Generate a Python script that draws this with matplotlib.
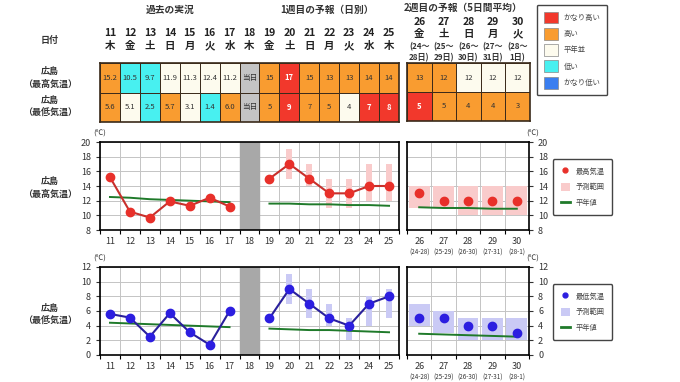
import matplotlib
matplotlib.use("Agg")
import matplotlib.pyplot as plt
import numpy as np
from matplotlib.patches import Patch
from matplotlib.lines import Line2D

plt.rcParams['font.family'] = ['Noto Sans CJK JP', 'DejaVu Sans']

W, H = 680, 382

# ---- data ----
days_obs = [11, 12, 13, 14, 15, 16, 17]
day_today = 18
days_fc = [19, 20, 21, 22, 23, 24, 25]
days_w2 = [26, 27, 28, 29, 30]
weekdays = ['木', '金', '土', '日', '月', '火', '水', '木', '金', '土', '日', '月', '火', '水', '木']
w2_weekdays = ['金', '土', '日', '月', '火']
w2_periods = ['(24〜\n28日)', '(25〜\n29日)', '(26〜\n30日)', '(27〜\n31日)', '(28〜\n1日)']
w2_ticks = ['(24-28)', '(25-29)', '(26-30)', '(27-31)', '(28-1)']

# max temperature
max_obs = [15.2, 10.5, 9.7, 11.9, 11.3, 12.4, 11.2]
max_obs_cls = ['H', 'L', 'L', 'N', 'N', 'N', 'N']
max_fc = [15, 17, 15, 13, 13, 14, 14]
max_fc_cls = ['H', 'VH', 'H', 'H', 'H', 'H', 'H']
max_fc_lo = [np.nan, 15, 14, 11, 11, 12, 12]
max_fc_hi = [np.nan, 19, 17, 15, 15, 17, 17]
max_w2 = [13, 12, 12, 12, 12]
max_w2_cls = ['H', 'H', 'N', 'N', 'N']
max_w2_lo = [11, 11, 10, 10, 10]
max_w2_hi = [14, 14, 14, 14, 14]
max_norm_obs = [12.5, 12.4, 12.2, 12.1, 12.0, 11.9, 11.8]
max_norm_fc = [11.6, 11.6, 11.5, 11.5, 11.4, 11.4, 11.3]
max_norm_w2 = [11.1, 11.0, 11.0, 10.9, 10.9]

# min temperature
min_obs = [5.6, 5.1, 2.5, 5.7, 3.1, 1.4, 6.0]
min_obs_cls = ['H', 'N', 'L', 'H', 'N', 'L', 'H']
min_fc = [5, 9, 7, 5, 4, 7, 8]
min_fc_cls = ['H', 'VH', 'H', 'H', 'N', 'VH', 'VH']
min_fc_lo = [np.nan, 7, 5, 4, 2, 4, 5]
min_fc_hi = [np.nan, 11, 9, 7, 5, 8, 9]
min_w2 = [5, 5, 4, 4, 3]
min_w2_cls = ['VH', 'H', 'H', 'H', 'H']
min_w2_lo = [4, 3, 2, 2, 2]
min_w2_hi = [7, 6, 5, 5, 5]
min_norm_obs = [4.4, 4.3, 4.2, 4.1, 4.0, 3.9, 3.8]
min_norm_fc = [3.6, 3.5, 3.4, 3.4, 3.3, 3.2, 3.1]
min_norm_w2 = [2.9, 2.8, 2.7, 2.6, 2.5]

legend_labels = ['かなり高い', '高い', '平年並', '低い', 'かなり低い']

# ---- styles ----
cls_color = {'VH': '#f2382c', 'H': '#f99c30', 'N': '#fdfbee', 'L': '#48f0f0',
             'VL': '#3a7ef0', 'T': '#c4c4c4'}
red, red_line, pink = '#e8302a', '#c8302c', '#f9cbcb'
blue, blue_line, lblue = '#2c1ee0', '#2a209c', '#cacaf5'
green = '#1f7a2a'
gridc = '#c4c4c4'

fig = plt.figure(figsize=(W / 100, H / 100), dpi=100)


def ax_px(x0, y0, x1, y1):
    return fig.add_axes([x0 / W, 1 - y1 / H, (x1 - x0) / W, (y1 - y0) / H])


def ftext(x, y, s, **kw):
    fig.text(x / W, 1 - y / H, s, ha='center', va='center', **kw)


# ---- header texts ----
ftext(170, 10, '過去の実況', fontsize=7, fontweight='bold', color='#333')
ftext(327, 10, '1週目の予報（日別）', fontsize=7, fontweight='bold', color='#333')
ftext(463, 8, '2週目の予報（5日間平均）', fontsize=7, fontweight='bold', color='#333')
ftext(50, 40, '日付', fontsize=6.5, fontweight='bold', color='#333')
ftext(50, 78, '広島\n（最高気温）', fontsize=6.5, fontweight='bold', color='#333', linespacing=1.5)
ftext(50, 107, '広島\n（最低気温）', fontsize=6.5, fontweight='bold', color='#333', linespacing=1.5)
ftext(50, 188, '広島\n（最高気温）', fontsize=6.5, fontweight='bold', color='#333', linespacing=1.5)
ftext(50, 315, '広島\n（最低気温）', fontsize=6.5, fontweight='bold', color='#333', linespacing=1.5)

# ---- table (days 11-25) ----
all_days = days_obs + [day_today] + days_fc
tab = ax_px(100, 63, 399, 122)
tab.set_xlim(10.5, 25.5)
tab.set_ylim(2, 0)
tab.set_xticks([])
tab.set_yticks([])
for s in tab.spines.values():
    s.set_linewidth(1.2)
    s.set_color('#3a2a1a')

rows = [
    (max_obs_cls + ['T'] + max_fc_cls, ['%.1f' % v for v in max_obs] + ['当日'] + ['%d' % v for v in max_fc]),
    (min_obs_cls + ['T'] + min_fc_cls, ['%.1f' % v for v in min_obs] + ['当日'] + ['%d' % v for v in min_fc]),
]
for r, (cls, labs) in enumerate(rows):
    tab.bar(all_days, 1, bottom=r, width=1, color=[cls_color[c] for c in cls],
            edgecolor='#3a2a1a', linewidth=0.7, align='center')
    for d, c, t in zip(all_days, cls, labs):
        tab.text(d, r + 0.5, t, ha='center', va='center', fontsize=5.5,
                 color='white' if c == 'VH' else '#333',
                 fontweight='bold' if c == 'VH' else 'normal')
for d, wd in zip(all_days, weekdays):
    tab.text(d, -1.02, str(d), ha='center', va='center', fontsize=7.5, fontweight='bold', color='#222')
    tab.text(d, -0.58, wd, ha='center', va='center', fontsize=7.5, fontweight='bold', color='#222')

# ---- table (week 2) ----
tab2 = ax_px(407, 63, 530, 121)
tab2.set_xlim(25.5, 30.5)
tab2.set_ylim(2, 0)
tab2.set_xticks([])
tab2.set_yticks([])
for s in tab2.spines.values():
    s.set_linewidth(1.2)
    s.set_color('#3a2a1a')
for r, (cls, vals) in enumerate([(max_w2_cls, max_w2), (min_w2_cls, min_w2)]):
    tab2.bar(days_w2, 1, bottom=r, width=1, color=[cls_color[c] for c in cls],
             edgecolor='#3a2a1a', linewidth=0.7)
    for d, c, v in zip(days_w2, cls, vals):
        tab2.text(d, r + 0.5, str(v), ha='center', va='center', fontsize=5.5,
                  color='white' if c == 'VH' else '#333',
                  fontweight='bold' if c == 'VH' else 'normal')
for d, wd, p in zip(days_w2, w2_weekdays, w2_periods):
    tab2.text(d, -1.41, str(d), ha='center', va='center', fontsize=7.5, fontweight='bold', color='#222')
    tab2.text(d, -1.0, wd, ha='center', va='center', fontsize=7.5, fontweight='bold', color='#222')
    tab2.text(d, -0.38, p, ha='center', va='center', fontsize=5.8, fontweight='bold', color='#333',
              linespacing=1.3)

# table legend
fig.legend(handles=[Patch(facecolor=cls_color[k], edgecolor='#888', linewidth=0.5)
                    for k in ['VH', 'H', 'N', 'L', 'VL']],
           labels=legend_labels, loc='upper left', bbox_to_anchor=(537 / W, 1 - 5 / H),
           borderaxespad=0, fontsize=5.3, handlelength=2.0, handleheight=2.1, labelspacing=0.6,
           borderpad=0.9, handletextpad=0.7, frameon=True, fancybox=True,
           edgecolor='#444', framealpha=1, labelcolor='#444')


# ---- charts ----
def draw_chart(y0, y1, ylo, yhi, obs, norm_obs, fc, norm_fc, fc_lo, fc_hi,
               w2, norm_w2, w2_lo, w2_hi, mcol, lcol, bcol, name):
    ax = ax_px(100, y0, 399, y1)
    ax.set_xlim(10.5, 25.5)
    ax.set_ylim(ylo, yhi)
    ax.set_yticks(np.arange(ylo, yhi + 1, 2))
    ax.set_xticks(all_days)
    ax.set_xticklabels([str(d) for d in all_days])
    ax.set_xticks(np.arange(10.5, 26, 1), minor=True)
    ax.tick_params(axis='x', which='major', length=0, labelsize=6.5, pad=5, colors='#333')
    ax.tick_params(axis='x', which='minor', length=3, width=0.8)
    ax.tick_params(axis='y', length=3, labelsize=6.5, colors='#333', width=0.8)
    ax.grid(axis='y', color=gridc, linewidth=0.7)
    ax.grid(axis='x', which='minor', color=gridc, linewidth=0.7)
    ax.set_axisbelow(True)
    for s in ax.spines.values():
        s.set_linewidth(1.2)
    ax.axvspan(day_today - 0.5, day_today + 0.5, color='#a8a8a8', zorder=2)

    lo = np.array(fc_lo, dtype=float)
    hi = np.array(fc_hi, dtype=float)
    ok = ~np.isnan(lo)
    ax.bar(np.array(days_fc)[ok], (hi - lo)[ok], bottom=lo[ok], width=0.3, color=bcol, zorder=2)
    ax.plot(days_obs, norm_obs, color=green, lw=1.4, zorder=3)
    ax.plot(days_fc, norm_fc, color=green, lw=1.4, zorder=3)
    ax.plot(days_obs, obs, color=lcol, lw=1.5, marker='o', markersize=6,
            markerfacecolor=mcol, markeredgecolor=mcol, zorder=4)
    ax.plot(days_fc, fc, color=lcol, lw=1.5, marker='o', markersize=6,
            markerfacecolor=mcol, markeredgecolor=mcol, zorder=4)
    ax.text(10.5, yhi + (yhi - ylo) * 0.1, '(℃)', ha='center', va='center', fontsize=5.5, color='#333')

    ax2 = ax_px(407, y0, 529, y1)
    ax2.set_xlim(25.5, 30.5)
    ax2.set_ylim(ylo, yhi)
    ax2.set_yticks(np.arange(ylo, yhi + 1, 2))
    ax2.yaxis.tick_right()
    ax2.set_xticks(days_w2)
    ax2.set_xticklabels([str(d) for d in days_w2])
    ax2.set_xticks(np.arange(25.5, 31, 1), minor=True)
    ax2.tick_params(axis='x', which='major', length=0, labelsize=6.5, pad=5, colors='#333')
    ax2.tick_params(axis='x', which='minor', length=3, width=0.8)
    ax2.tick_params(axis='y', length=3, labelsize=6.5, colors='#333', width=0.8)
    ax2.grid(axis='y', color=gridc, linewidth=0.7)
    ax2.grid(axis='x', which='minor', color=gridc, linewidth=0.7)
    ax2.set_axisbelow(True)
    for s in ax2.spines.values():
        s.set_linewidth(1.2)
    ax2.bar(days_w2, np.array(w2_hi) - np.array(w2_lo), bottom=w2_lo, width=0.86, color=bcol, zorder=2)
    ax2.plot(days_w2, norm_w2, color=green, lw=1.4, zorder=3)
    ax2.plot(days_w2, w2, linestyle='none', marker='o', markersize=6,
             markerfacecolor=mcol, markeredgecolor=mcol, zorder=4)
    for d, t in zip(days_w2, w2_ticks):
        ax2.text(d, -0.26, t, transform=ax2.get_xaxis_transform(), ha='center', va='center',
                 fontsize=4.5, color='#333')
    ax2.text(30.65, yhi + (yhi - ylo) * 0.1, '(℃)', ha='center', va='center', fontsize=5.5, color='#333')

    handles = [Line2D([], [], linestyle='none', marker='o', markersize=3.5,
                      markerfacecolor=mcol, markeredgecolor=mcol),
               Patch(facecolor=bcol),
               Line2D([], [], color=green, lw=2)]
    fig.legend(handles=handles, labels=[name, '予測範囲', '平年値'], loc='center left',
               bbox_to_anchor=(553 / W, 1 - ((y0 + y1) / 2 + 1) / H), borderaxespad=0,
               fontsize=5.2, handlelength=1.2, handleheight=1.3, labelspacing=1.0, borderpad=1.1,
               handletextpad=0.8, frameon=True, fancybox=True, edgecolor='#444', framealpha=1,
               labelcolor='#444')


draw_chart(142, 230, 8, 20, max_obs, max_norm_obs, max_fc, max_norm_fc, max_fc_lo, max_fc_hi,
           max_w2, max_norm_w2, max_w2_lo, max_w2_hi, red, red_line, pink, '最高気温')
draw_chart(267, 355, 0, 12, min_obs, min_norm_obs, min_fc, min_norm_fc, min_fc_lo, min_fc_hi,
           min_w2, min_norm_w2, min_w2_lo, min_w2_hi, blue, blue_line, lblue, '最低気温')

fig.savefig('out.png', dpi=100, facecolor='white')
